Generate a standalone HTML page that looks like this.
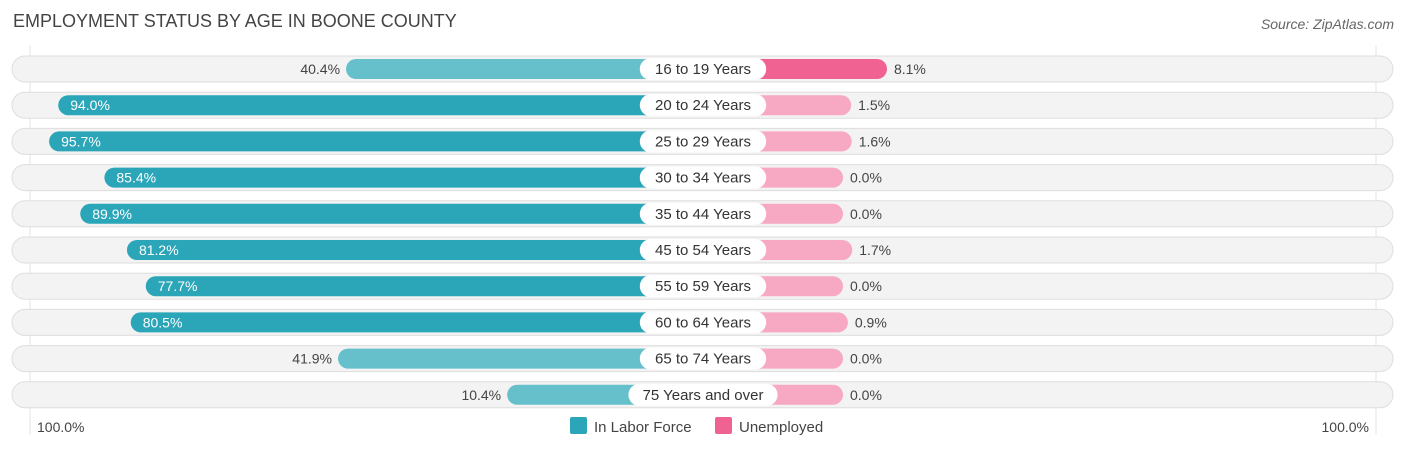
<!DOCTYPE html>
<html><head><meta charset="utf-8"><style>
body{margin:0;width:1406px;height:451px;background:#fff;font-family:"Liberation Sans",sans-serif;overflow:hidden;position:relative}
.t{position:absolute;white-space:nowrap}
</style></head><body>
<div class="t" style="left:13px;top:11px;font-size:18px;color:#444">EMPLOYMENT STATUS BY AGE IN BOONE COUNTY</div>
<div class="t" style="right:12px;top:16px;font-size:14px;color:#666;font-style:italic">Source: ZipAtlas.com</div>
<svg id="c" width="1406" height="451" style="position:absolute;left:0;top:0"></svg>
<script>
const categories=["16 to 19 Years","20 to 24 Years","25 to 29 Years","30 to 34 Years","35 to 44 Years","45 to 54 Years","55 to 59 Years","60 to 64 Years","65 to 74 Years","75 Years and over"];
const laborForce=[40.4,94.0,95.7,85.4,89.9,81.2,77.7,80.5,41.9,10.4];
const unemployed=[8.1,1.5,1.6,0.0,0.0,1.7,0.0,0.9,0.0,0.0];
const axisLabels=["100.0%","100.0%"];
const svg=document.getElementById('c');
const NS='http://www.w3.org/2000/svg';
const cx=703,off=140,sL=5.37,sR=5.43;
const xL=v=>cx-off-v*sL, xR=v=>cx+off+v*sR;
const yRow=i=>69+i*36.2;
function mk(t,a,p){const e=document.createElementNS(NS,t);for(const k in a)e.setAttribute(k,a[k]);(p||svg).appendChild(e);return e;}
const g1=mk('line',{x1:30,y1:45,x2:30,y2:435,stroke:'#e3e3e3'});


const g2=mk('line',{x1:1376,y1:45,x2:1376,y2:435,stroke:'#e3e3e3'});


categories.forEach((c,i)=>{
  const y=yRow(i);
  const bg=mk('rect',{x:12,y:y-13,width:1381,height:26,rx:13,fill:'#f3f3f3',stroke:'#dedede'});
  
  
  const v=laborForce[i],strong=v>60;
  const b=mk('rect',{x:xL(v),y:y-10,width:cx-xL(v),height:20,rx:10,fill:strong?'#2ba5b8':'#66c0cc'});
  
  
  const u=unemployed[i];
  const r=mk('rect',{x:cx,y:y-10,width:xR(u)-cx,height:20,rx:10,fill:u>5?'#f06292':'#f7a8c2'});
  
  
  const lt=mk('text',{y:y+5,'font-size':14,fill:strong?'#fff':'#444','text-anchor':strong?'start':'end',x:strong?xL(v)+12:xL(v)-6});
  lt.textContent=v.toFixed(1)+'%';
  
  
  const rt=mk('text',{y:y+5,'font-size':14,fill:'#444',x:xR(u)+7});
  rt.textContent=u.toFixed(1)+'%';
  
  
  const w=c.length*7.6+20;
  const p=mk('rect',{x:cx-w/2,y:y-11,width:w,height:22,rx:11,fill:'#fff'});
  
  
  const ct=mk('text',{x:cx,y:y+5,'font-size':15,fill:'#333','text-anchor':'middle'});
  ct.textContent=c;
  
  
});
const a1=mk('text',{x:37,y:432,'font-size':14,fill:'#444'});a1.textContent=axisLabels[0];


const a2=mk('text',{x:1369,y:432,'font-size':14,fill:'#444','text-anchor':'end'});a2.textContent=axisLabels[1];


const s1=mk('rect',{x:570,y:417,width:17,height:17,rx:2,fill:'#2ba5b8'});


const l1=mk('text',{x:594,y:432,'font-size':15,fill:'#444'});l1.textContent='In Labor Force';


const s2=mk('rect',{x:715,y:417,width:17,height:17,rx:2,fill:'#f06292'});


const l2=mk('text',{x:739,y:432,'font-size':15,fill:'#444'});l2.textContent='Unemployed';


</script>
</body></html>
